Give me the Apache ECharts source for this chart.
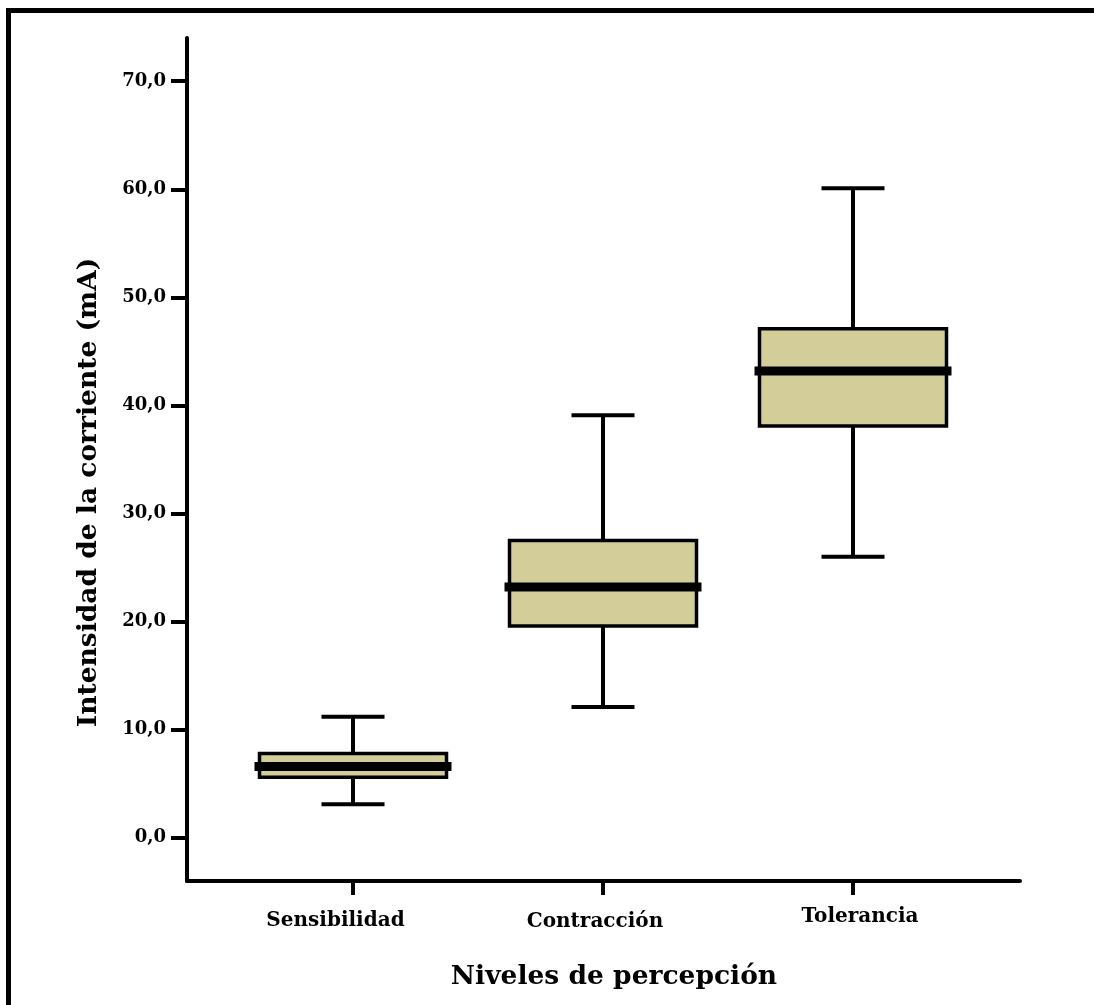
<!DOCTYPE html>
<html>
<head>
<meta charset="utf-8">
<script src="https://cdn.jsdelivr.net/npm/echarts@6/dist/echarts.min.js"></script>
<style>
  html, body { margin: 0; padding: 0; background: #fff; }
  #chart { width: 1094px; height: 1005px; }
</style>
</head>
<body>
<div id="chart"></div>
<script>
// Perception levels and the current intensity summary (mA) for each one
const categories = ['Sensibilidad', 'Contracción', 'Tolerancia'];
const whiskerLow  = [3.1, 12.1, 26.0];
const quartile1   = [5.6, 19.6, 38.1];
const medians     = [6.6, 23.2, 43.2];
const quartile3   = [7.8, 27.5, 47.1];
const whiskerHigh = [11.2, 39.1, 60.1];
const yTicks = [0, 10, 20, 30, 40, 50, 60, 70];

const FONT = '"DejaVu Serif", serif';
const BOX_FILL = '#d3ce99';

// one row per category: [position, low, q1, median, q3, high]
const boxData = categories.map((c, i) => [
  i + 1, whiskerLow[i], quartile1[i], medians[i], quartile3[i], whiskerHigh[i]
]);

function renderBox(params, api) {
  const x = api.value(0);
  const unit = api.size([1, 0])[0];
  const pLow = api.coord([x, api.value(1)]);
  const pQ1 = api.coord([x, api.value(2)]);
  const pMed = api.coord([x, api.value(3)]);
  const pQ3 = api.coord([x, api.value(4)]);
  const pHigh = api.coord([x, api.value(5)]);
  const cx = pMed[0];
  const boxW = unit * 0.748;
  const capW = unit * 0.252;
  const medW = unit * 0.788;
  const line = { stroke: '#000', lineWidth: 4, lineCap: 'butt' };
  return {
    type: 'group',
    children: [
      { type: 'line', shape: { x1: cx, y1: pLow[1], x2: cx, y2: pQ1[1] }, style: line },
      { type: 'line', shape: { x1: cx, y1: pQ3[1], x2: cx, y2: pHigh[1] }, style: line },
      { type: 'line', shape: { x1: cx - capW / 2, y1: pLow[1], x2: cx + capW / 2, y2: pLow[1] }, style: line },
      { type: 'line', shape: { x1: cx - capW / 2, y1: pHigh[1], x2: cx + capW / 2, y2: pHigh[1] }, style: line },
      { type: 'rect', shape: { x: cx - boxW / 2, y: pQ3[1], width: boxW, height: pQ1[1] - pQ3[1] },
        style: { fill: BOX_FILL, stroke: '#000', lineWidth: 3.5 } },
      { type: 'line', shape: { x1: cx - medW / 2, y1: pMed[1], x2: cx + medW / 2, y2: pMed[1] },
        style: { stroke: '#000', lineWidth: 9, lineCap: 'butt' } }
    ]
  };
}

const chart = echarts.init(document.getElementById('chart'), null, { renderer: 'canvas' });

chart.setOption({
  animation: false,
  backgroundColor: '#fff',
  grid: { left: 187, top: 38, width: 833, height: 843, containLabel: false },
  xAxis: {
    type: 'value',
    min: 0.336,
    max: 3.668,
    splitLine: { show: false },
    axisLine: { show: true, onZero: false, lineStyle: { color: '#000', width: 4 } },
    axisTick: { show: true, length: 14, customValues: [1, 2, 3], lineStyle: { color: '#000', width: 4 } },
    axisLabel: {
      customValues: [1, 2, 3],
      margin: 26,
      fontFamily: FONT,
      fontWeight: 'bold',
      fontSize: 20,
      color: '#000',
      formatter: v => {
        const i = Math.round(v) - 1;
        const key = ['s', 'c', 't'][i];
        return '{' + key + '|' + categories[i] + '}';
      },
      rich: {
        s: { fontFamily: FONT, fontWeight: 'bold', fontSize: 20, color: '#000', padding: [4, 35, 0, 0] },
        c: { fontFamily: FONT, fontWeight: 'bold', fontSize: 20, color: '#000', padding: [5, 16, 0, 0] },
        t: { fontFamily: FONT, fontWeight: 'bold', fontSize: 20, color: '#000', padding: [0, 0, 0, 14] }
      }
    },
    name: 'Niveles de percepción',
    nameLocation: 'middle',
    nameGap: 83,
    nameTextStyle: { fontFamily: FONT, fontWeight: 'bold', fontSize: 26.5, color: '#000', padding: [0, 0, 0, 21] }
  },
  yAxis: {
    type: 'value',
    min: -4,
    max: 74,
    splitLine: { show: false },
    axisLine: { show: true, onZero: false, lineStyle: { color: '#000', width: 4 } },
    axisTick: { show: true, length: 16, customValues: yTicks, lineStyle: { color: '#000', width: 4 } },
    axisLabel: {
      customValues: yTicks,
      margin: 21,
      fontFamily: FONT,
      fontWeight: 'bold',
      fontSize: 18,
      color: '#000',
      formatter: v => v.toFixed(1).replace('.', ',')
    },
    name: 'Intensidad de la corriente (mA)',
    nameLocation: 'middle',
    nameRotate: 90,
    nameGap: 84,
    nameTextStyle: { fontFamily: FONT, fontWeight: 'bold', fontSize: 26.5, color: '#000', padding: [0, 66, 0, 0] }
  },
  graphic: [
    // page frame along the top and left edges
    { type: 'rect', left: 6, top: 8, shape: { width: 1088, height: 5 }, style: { fill: '#000' } },
    { type: 'rect', left: 6, top: 8, shape: { width: 5, height: 997 }, style: { fill: '#000' } }
  ],
  series: [{
    type: 'custom',
    renderItem: renderBox,
    encode: { x: 0, y: [1, 2, 3, 4, 5] },
    data: boxData,
    clip: false
  }]
});
</script>
</body>
</html>
